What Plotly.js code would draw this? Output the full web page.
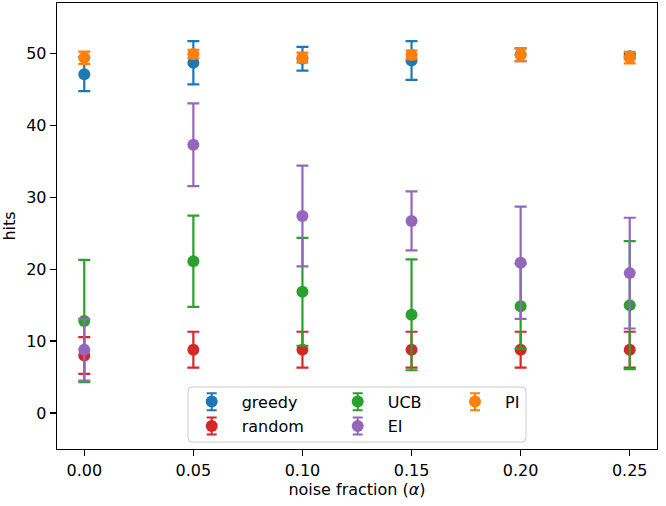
<!DOCTYPE html>
<html>
<head>
<meta charset="utf-8">
<script src="https://cdn.plot.ly/plotly-3.0.1.min.js"></script>
<style>html,body{margin:0;padding:0;background:#fff;}#chart{width:666px;height:506px;}</style>
</head>
<body>
<div id="chart"></div>
<script>
const noise = [0.00, 0.05, 0.10, 0.15, 0.20, 0.25];
const tickLabels = ["0.00", "0.05", "0.10", "0.15", "0.20", "0.25"];

const greedyMean = [47.1, 48.7, 49.25, 49.0, 49.8, 49.6];
const greedyErr  = [2.35, 3.0, 1.65, 2.7, 0.9, 0.3];

const randomMean = [8.0, 8.8, 8.8, 8.8, 8.8, 8.8];
const randomErr  = [2.55, 2.5, 2.5, 2.5, 2.5, 2.5];

const ucbMean = [12.8, 21.1, 16.85, 13.65, 14.85, 15.0];
const ucbErr  = [8.5, 6.35, 7.5, 7.7, 5.9, 8.9];

const eiMean = [8.8, 37.3, 27.4, 26.7, 20.9, 19.45];
const eiErr  = [4.3, 5.75, 7.0, 4.1, 7.8, 7.7];

const piMean = [49.4, 49.9, 49.4, 49.8, 49.8, 49.4];
const piErr  = [0.85, 0.6, 0.7, 0.6, 0.9, 0.8];

const seriesNames = ["greedy", "random", "UCB", "EI", "PI"];
const colors = ["#1f77b4", "#d62728", "#2ca02c", "#9467bd", "#ff7f0e"];
const means = [greedyMean, randomMean, ucbMean, eiMean, piMean];
const errs = [greedyErr, randomErr, ucbErr, eiErr, piErr];
const legendIds = ["legend", "legend2", "legend3", "legend4", "legend5"];

const traces = seriesNames.map((name, i) => ({
  type: "scatter",
  mode: "markers",
  name: name,
  x: noise,
  y: means[i],
  legend: legendIds[i],
  marker: {color: colors[i], size: 12},
  error_y: {type: "data", array: errs[i], visible: true, color: colors[i], thickness: 2.2, width: 6}
}));

// plot area in pixels
const L = 57, R = 657, T = 3, B = 449;
const W = R - L, H = B - T;
const px = v => (v - L) / W;
const py = v => (B - v) / H;

// legend glyph centres (pixels), one per series
const legendCentres = [[211.7, 401.7], [211.7, 426], [357.7, 401.7], [357.7, 426], [475, 401.7]];
const ITEMW = 50, SYM = 30;

function legendAt(cx, cy) {
  return {
    x: px(cx - SYM), y: py(cy), xanchor: "left", yanchor: "middle",
    bgcolor: "rgba(0,0,0,0)", borderwidth: 0, itemwidth: ITEMW,
    font: {family: "DejaVu Sans", size: 16, color: "#000"},
    itemclick: false
  };
}

const bx0 = px(188), bx1 = px(526), by0 = py(442), by1 = py(387);
const rx = 4 / W, ry = 4 / H;
const boxPath = `M ${bx0 + rx},${by0} L ${bx1 - rx},${by0} Q ${bx1},${by0} ${bx1},${by0 + ry} ` +
  `L ${bx1},${by1 - ry} Q ${bx1},${by1} ${bx1 - rx},${by1} L ${bx0 + rx},${by1} Q ${bx0},${by1} ${bx0},${by1 - ry} ` +
  `L ${bx0},${by0 + ry} Q ${bx0},${by0} ${bx0 + rx},${by0} Z`;

const shapes = [{
  type: "path", xref: "paper", yref: "paper", path: boxPath,
  fillcolor: "rgba(255,255,255,0.8)", line: {color: "#cccccc", width: 1}, layer: "above"
}];
// error-bar glyphs behind legend markers
legendCentres.forEach(([cx, cy], i) => {
  const h = 8.5, w = 5;
  const p = `M ${px(cx)},${py(cy - h)} L ${px(cx)},${py(cy + h)} ` +
            `M ${px(cx - w)},${py(cy - h)} L ${px(cx + w)},${py(cy - h)} ` +
            `M ${px(cx - w)},${py(cy + h)} L ${px(cx + w)},${py(cy + h)}`;
  shapes.push({type: "path", xref: "paper", yref: "paper", path: p,
    line: {color: colors[i], width: 2}, layer: "above"});
});

const layout = {
  width: 666, height: 506,
  margin: {l: L, r: 666 - R, t: T, b: 506 - B},
  paper_bgcolor: "#fff", plot_bgcolor: "#fff",
  font: {family: "DejaVu Sans", size: 16, color: "#000"},
  showlegend: true,
  xaxis: {
    range: [-0.0125, 0.2625],
    tickvals: noise, ticktext: tickLabels,
    ticks: "outside", ticklen: 6, tickwidth: 1.3, tickcolor: "#000",
    showline: true, linecolor: "#000", linewidth: 1.3, mirror: true,
    showgrid: false, zeroline: false,
    tickfont: {family: "DejaVu Sans", size: 16, color: "#000"},
    title: {text: "noise fraction (<i>α</i>)", font: {family: "DejaVu Sans", size: 16, color: "#000"}, standoff: 5}
  },
  yaxis: {
    range: [-5, 57],
    tickvals: [0, 10, 20, 30, 40, 50],
    ticks: "outside", ticklen: 6, tickwidth: 1.3, tickcolor: "#000",
    showline: true, linecolor: "#000", linewidth: 1.3, mirror: true,
    showgrid: false, zeroline: false,
    tickfont: {family: "DejaVu Sans", size: 16, color: "#000"},
    title: {text: "hits", font: {family: "DejaVu Sans", size: 16, color: "#000"}, standoff: 6}
  },
  shapes: shapes
};
legendIds.forEach((id, i) => { layout[id] = legendAt(legendCentres[i][0], legendCentres[i][1]); });

Plotly.newPlot("chart", traces, layout, {displayModeBar: false, staticPlot: true});
</script>
</body>
</html>
